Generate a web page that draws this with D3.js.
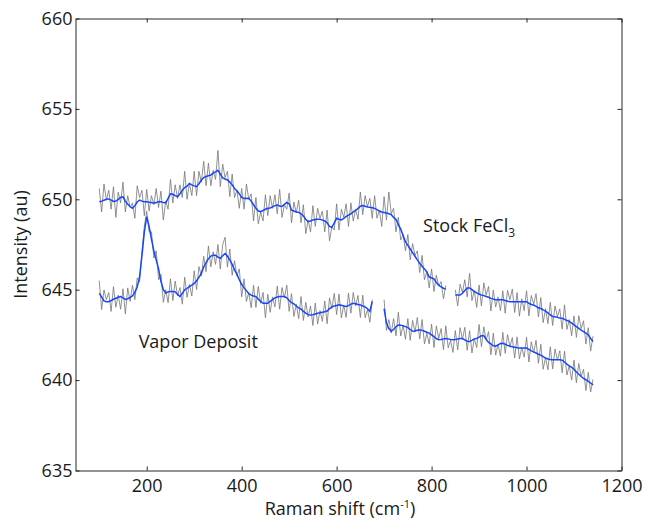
<!DOCTYPE html>
<html>
<head>
<meta charset="utf-8">
<script src="https://cdn.jsdelivr.net/npm/d3@7"></script>
<style>
  body { margin: 0; background: #fff; }
  text { font-family: "Open Sans", sans-serif; fill: #1a1a1a; }
  .axis path, .axis line { stroke: #262626; }
</style>
</head>
<body>
<svg id="chart" width="648" height="520"></svg>
<script>
/* =======================
   DATA
======================= */

const xTicks = [200, 400, 600, 800, 1000, 1200];
const yTicks = [635, 640, 645, 650, 655, 660];

// every series is sampled on a 5 cm-1 grid from its start value
const step = 5;

// Stock FeCl3 - first piece (100 .. 830)
const stockStartA = 100;
const stockRawA = [
  650.6, 649.3, 650.85, 649.95, 650.5, 649.45, 650.7, 649.0, 650.4, 649.8,
  650.95, 649.3, 650.2, 649.55, 649.8, 648.95, 650.75, 650.1, 650.5, 649.1,
  650.55, 649.35, 650.2, 649.7, 650.6, 649.55, 650.45, 648.85, 649.9, 649.45,
  651.1, 649.8, 650.8, 650.05, 650.8, 650.1, 651.55, 650.0, 650.9, 650.2,
  651.55, 650.2, 651.55, 650.95, 652.1, 650.75, 652.0, 650.75, 651.6, 651.1,
  652.7, 650.7, 651.95, 651.2, 651.55, 650.15, 651.4, 650.1, 650.5, 649.5,
  650.6, 649.45, 650.85, 650.0, 650.3, 648.8, 650.1, 648.65, 649.3, 648.8,
  650.25, 649.1, 650.2, 649.5, 650.25, 649.2, 650.55, 649.0, 649.7, 649.45,
  650.35, 648.7, 649.85, 649.25, 649.95, 648.7, 649.7, 648.1, 648.85, 648.2,
  649.65, 648.5, 649.5, 648.95, 649.35, 648.2, 649.4, 647.7, 648.5, 648.3,
  649.75, 648.3, 649.45, 649.0, 649.75, 648.5, 649.8, 648.8, 649.45, 648.9,
  650.4, 649.15, 650.2, 649.6, 650.05, 648.95, 650.2, 648.95, 649.4, 648.5,
  650.15, 648.85, 650.4, 649.2, 649.5, 648.2, 649.0, 647.75, 648.05, 647.15,
  648.05, 646.65, 647.55, 646.9, 647.15, 645.95, 646.9, 645.55, 646.0, 645.1,
  646.15, 644.9, 645.8, 645.2, 645.45, 644.5, 645.23
];
const stockSmoothA = [
  649.87, 649.9, 649.95, 650.0, 650.02, 649.95, 649.88, 649.9, 650.0, 650.1,
  650.14, 649.9, 649.72, 649.6, 649.5, 649.65, 649.85, 649.96, 649.9, 649.86,
  649.87, 649.84, 649.82, 649.78, 649.82, 649.86, 649.87, 649.82, 649.8, 650.05,
  650.3, 650.28, 650.2, 650.14, 650.3, 650.5, 650.65, 650.72, 650.88, 650.8,
  650.74, 650.7, 650.86, 651.05, 651.2, 651.26, 651.3, 651.34, 651.45, 651.52,
  651.6, 651.4, 651.18, 651.12, 651.07, 650.95, 650.8, 650.6, 650.47, 650.3,
  650.1, 650.05, 650.06, 650.05, 649.9, 649.7, 649.5, 649.35, 649.32, 649.38,
  649.45, 649.5, 649.52, 649.58, 649.65, 649.68, 649.63, 649.6, 649.72, 649.83,
  649.75, 649.4, 649.35, 649.3, 649.28, 649.2, 649.08, 648.9, 648.76, 648.8,
  648.86, 648.88, 648.9, 648.9, 648.85, 648.8, 648.7, 648.5, 648.45, 648.7,
  648.95, 648.9, 648.86, 648.95, 649.05, 649.12, 649.2, 649.3, 649.38, 649.5,
  649.62, 649.66, 649.62, 649.58, 649.56, 649.53, 649.5, 649.43, 649.35, 649.3,
  649.27, 649.24, 649.2, 649.15, 649.0, 648.88, 648.6, 648.35, 648.0, 647.65,
  647.45, 647.25, 647.05, 646.85, 646.65, 646.46, 646.3, 646.15, 645.98, 645.7,
  645.65, 645.6, 645.4, 645.25, 645.15, 645.08, 645.03
];

// Stock FeCl3 - second piece (850 .. 1140)
const stockStartB = 850;
const stockRawB = [
  645.0, 644.1, 645.3, 644.85, 645.55, 644.6, 645.9, 644.4, 644.95, 644.02,
  645.26, 644.1, 645.38, 644.7, 645.18, 643.82, 644.98, 644.04, 644.6, 643.84,
  644.94, 643.7, 644.96, 644.45, 645.04, 643.74, 644.84, 643.54, 644.5, 643.84,
  644.94, 643.55, 644.68, 644.2, 644.78, 643.5, 644.56, 643.18, 643.95, 643.12,
  644.3, 643.02, 644.1, 643.5, 643.94, 642.82, 644.16, 642.8, 643.35, 642.45,
  643.55, 642.36, 643.56, 642.85, 643.28, 642.0, 642.9, 641.6, 642.43
];
const stockSmoothB = [
  644.7, 644.7, 644.7, 644.8, 644.95, 645.1, 645.1, 645.0, 644.9, 644.82,
  644.76, 644.7, 644.68, 644.62, 644.58, 644.52, 644.48, 644.44, 644.44, 644.44,
  644.44, 644.4, 644.36, 644.34, 644.34, 644.34, 644.34, 644.34, 644.34, 644.34,
  644.34, 644.25, 644.18, 644.15, 644.08, 644.0, 643.96, 643.88, 643.82, 643.72,
  643.6, 643.52, 643.5, 643.47, 643.44, 643.42, 643.36, 643.3, 643.25, 643.15,
  643.05, 642.96, 642.86, 642.76, 642.68, 642.6, 642.5, 642.3, 642.13
];

// Vapor Deposit - first piece (100 .. 675)
const vaporStartA = 100;
const vaporRawA = [
  645.5, 643.9, 644.98, 644.45, 644.84, 643.8, 645.17, 644.03, 644.7, 643.92,
  645.05, 643.66, 645.1, 644.35, 645.25, 644.45, 645.65, 645.42, 647.1, 648.5,
  649.34, 648.2, 648.2, 646.75, 647.15, 645.55, 645.85, 644.3, 645.0, 644.28,
  645.6, 644.4, 645.48, 644.65, 645.12, 644.2, 645.69, 644.58, 645.3, 644.65,
  646.05, 645.0, 646.28, 645.75, 646.85, 646.0, 647.42, 646.26, 647.1, 646.4,
  647.5, 646.14, 647.48, 647.9, 646.25, 647.25, 645.8, 646.6, 645.75, 646.15,
  644.6, 645.6, 644.35, 644.85, 644.0, 645.25, 644.02, 645.18, 644.25, 644.85,
  643.45, 644.75, 643.75, 644.6, 644.05, 645.2, 643.92, 645.12, 644.55, 645.25,
  643.8, 644.78, 643.52, 644.2, 643.4, 644.62, 643.3, 644.3, 643.5, 644.1,
  643.02, 644.26, 643.1, 643.85, 643.25, 644.38, 643.12, 644.55, 643.95, 644.8,
  643.63, 644.76, 643.44, 644.15, 643.47, 644.82, 643.7, 644.85, 644.1, 644.68,
  643.46, 644.7, 643.45, 643.9, 643.2, 644.45
];
const vaporSmoothA = [
  644.8, 644.6, 644.38, 644.34, 644.34, 644.4, 644.47, 644.53, 644.58, 644.62,
  644.55, 644.46, 644.5, 644.58, 644.65, 644.85, 645.15, 645.72, 646.9, 648.2,
  649.04, 648.5, 647.8, 647.15, 646.65, 646.15, 645.45, 645.0, 644.82, 644.88,
  644.9, 644.9, 644.88, 644.75, 644.62, 644.8, 644.99, 645.08, 645.17, 645.25,
  645.35, 645.5, 645.68, 645.9, 646.25, 646.5, 646.72, 646.86, 646.9, 646.9,
  646.8, 646.74, 646.88, 647.0, 646.85, 646.65, 646.4, 646.1, 645.85, 645.55,
  645.3, 645.1, 644.95, 644.78, 644.7, 644.65, 644.62, 644.48, 644.35, 644.25,
  644.25, 644.25, 644.35, 644.45, 644.55, 644.6, 644.62, 644.62, 644.62, 644.55,
  644.4, 644.28, 644.22, 644.1, 644.0, 643.92, 643.8, 643.7, 643.62, 643.6,
  643.62, 643.66, 643.7, 643.72, 643.75, 643.78, 643.82, 643.95, 644.05, 644.1,
  644.13, 644.16, 644.14, 644.1, 644.07, 644.12, 644.2, 644.25, 644.22, 644.18,
  644.16, 644.1, 644.05, 643.95, 643.8, 644.35
];

// Vapor Deposit - second piece (700 .. 1140)
const vaporStartB = 700;
const vaporRawB = [
  644.45, 642.75, 643.35, 642.6, 643.4, 642.45, 643.75, 642.44, 643.05, 642.26,
  643.4, 642.2, 643.3, 642.65, 643.46, 642.28, 643.35, 642.0, 642.6, 642.0,
  643.1, 641.8, 643.0, 642.3, 642.85, 641.68, 643.0, 641.78, 642.2, 641.53,
  642.74, 641.67, 642.9, 642.25, 642.92, 641.65, 642.73, 641.5, 642.3, 641.8,
  643.08, 641.85, 642.95, 642.2, 642.68, 641.4, 642.6, 641.38, 642.0, 641.32,
  642.64, 641.48, 642.52, 641.85, 642.35, 641.22, 642.39, 641.17, 641.8, 641.27,
  642.37, 641.0, 642.12, 641.5, 642.2, 640.93, 641.98, 640.6, 641.25, 640.57,
  641.84, 640.62, 641.72, 641.1, 641.62, 640.4, 641.6, 640.28, 640.8, 640.0,
  641.1, 639.85, 640.92, 640.2, 640.6, 639.42, 640.43, 639.34, 640.04
];
const vaporSmoothB = [
  643.95, 643.15, 642.85, 642.7, 642.8, 642.95, 643.05, 643.04, 643.0, 642.96,
  642.9, 642.8, 642.7, 642.72, 642.76, 642.78, 642.75, 642.7, 642.65, 642.6,
  642.5, 642.4, 642.3, 642.23, 642.25, 642.28, 642.3, 642.28, 642.25, 642.23,
  642.24, 642.27, 642.3, 642.3, 642.22, 642.15, 642.13, 642.2, 642.28, 642.3,
  642.38, 642.45, 642.45, 642.25, 642.08, 642.0, 641.9, 641.88, 641.95, 642.02,
  642.04, 641.98, 641.92, 641.87, 641.85, 641.82, 641.79, 641.77, 641.77, 641.77,
  641.77, 641.7, 641.62, 641.56, 641.5, 641.43, 641.38, 641.3, 641.22, 641.17,
  641.14, 641.12, 641.12, 641.12, 641.12, 641.1, 641.0, 640.88, 640.78, 640.7,
  640.6, 640.45, 640.32, 640.2, 640.1, 640.02, 639.93, 639.84, 639.74
];

/* =======================
   CHART
======================= */

const margin = { top: 18.5, right: 26.5, bottom: 49.5, left: 75.5 };
const width = 648 - margin.left - margin.right;
const height = 520 - margin.top - margin.bottom;

const svg = d3.select("#chart")
    .append("g")
    .attr("transform", `translate(${margin.left},${margin.top})`);

const xScale = d3.scaleLinear().domain([50, 1200]).range([0, width]);
const yScale = d3.scaleLinear().domain([635, 660]).range([height, 0]);

// box axes, ticks pointing inwards (matlab style)
svg.append("g").attr("class", "axis").attr("transform", `translate(0,${height})`)
    .call(d3.axisBottom(xScale).tickValues(xTicks).tickFormat(d3.format("d"))
        .tickSizeInner(-4).tickSizeOuter(0).tickPadding(9));
svg.append("g").attr("class", "axis")
    .call(d3.axisLeft(yScale).tickValues(yTicks).tickFormat(d3.format("d"))
        .tickSizeInner(-4).tickSizeOuter(0).tickPadding(3));
svg.append("g").attr("class", "axis")
    .call(d3.axisTop(xScale).tickValues(xTicks).tickSizeInner(-4).tickSizeOuter(0).tickFormat(""));
svg.append("g").attr("class", "axis").attr("transform", `translate(${width},0)`)
    .call(d3.axisRight(yScale).tickValues(yTicks).tickSizeInner(-4).tickSizeOuter(0).tickFormat(""));

svg.selectAll(".axis text")
    .style("font-family", '"Open Sans", sans-serif')
    .style("font-size", "18px")
    .attr("fill", "#1a1a1a");

/* Lines */
const toPoints = (start, values) => values.map((v, i) => ({ x: start + i * step, y: v }));

const line = d3.line()
    .x(d => xScale(d.x))
    .y(d => yScale(d.y));

const pieces = [
    { start: stockStartA, raw: stockRawA, smooth: stockSmoothA },
    { start: stockStartB, raw: stockRawB, smooth: stockSmoothB },
    { start: vaporStartA, raw: vaporRawA, smooth: vaporSmoothA },
    { start: vaporStartB, raw: vaporRawB, smooth: vaporSmoothB }
];

pieces.forEach(p => {
    svg.append("path")
        .datum(toPoints(p.start, p.raw))
        .attr("d", line)
        .attr("fill", "none")
        .attr("stroke", "#767676")
        .attr("stroke-width", 0.8);
});

pieces.forEach(p => {
    svg.append("path")
        .datum(toPoints(p.start, p.smooth))
        .attr("d", line)
        .attr("fill", "none")
        .attr("stroke", "#1446ff")
        .attr("stroke-width", 1.5);
});

/* Labels */
const stockLabel = svg.append("text")
    .attr("x", xScale(782))
    .attr("y", yScale(648.2))
    .style("font-size", "18px");
stockLabel.append("tspan").text("Stock FeCl");
stockLabel.append("tspan").attr("dy", 5).style("font-size", "12px").text("3");

svg.append("text")
    .attr("x", xScale(183))
    .attr("y", yScale(641.75))
    .style("font-size", "18px")
    .text("Vapor Deposit");

const xLabel = d3.select("#chart").append("text")
    .attr("x", 340)
    .attr("y", 515)
    .attr("text-anchor", "middle")
    .style("font-size", "18px");
xLabel.append("tspan").text("Raman shift (cm");
xLabel.append("tspan").attr("dy", -7).style("font-size", "11px").text("-1");
xLabel.append("tspan").attr("dy", 7).text(")");

d3.select("#chart").append("text")
    .attr("transform", `translate(27,${margin.top + height / 2}) rotate(-90)`)
    .attr("text-anchor", "middle")
    .style("font-size", "18px")
    .text("Intensity (au)");
</script>
</body>
</html>
